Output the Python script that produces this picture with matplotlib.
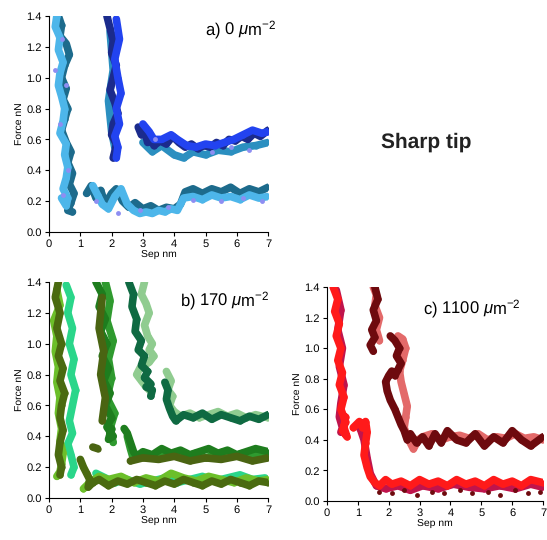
import numpy as np
from matplotlib import pyplot as plt

plt.rcParams['font.family'] = ['Liberation Sans', 'DejaVu Sans']
plt.rcParams['mathtext.fontset'] = 'custom'
plt.rcParams['mathtext.it'] = 'Liberation Sans:italic'
plt.rcParams['mathtext.rm'] = 'Liberation Sans'
plt.rcParams['text.hinting'] = 'no_hinting'

nan = np.nan

# ---- panel a) 0 um^-2 (blues) ----
a_teal_x = [0.30, 0.40, 0.35, 0.55, 0.65, 0.50, 0.40, 0.55, 0.45, 0.60, 0.50, 0.40, 0.55, 0.70, 0.60, 0.75, 0.65, 0.80, 0.70, 0.60, 0.75, nan,
            1.20, 1.35, 1.50, 1.65, 1.80, 2.00, 2.15, 2.35, 2.55, 2.75, 3.00, 3.25, 3.50, 3.75, 4.00, 4.20, 4.35, 4.60, 4.90, 5.20, 5.50, 5.80, 6.10, 6.40, 6.70, 7.00]
a_teal_y = [1.40, 1.34, 1.27, 1.22, 1.15, 1.08, 1.00, 0.93, 0.86, 0.80, 0.73, 0.66, 0.58, 0.52, 0.45, 0.38, 0.31, 0.25, 0.19, 0.14, 0.13, nan,
            0.25, 0.30, 0.22, 0.27, 0.18, 0.25, 0.28, 0.20, 0.16, 0.19, 0.15, 0.17, 0.14, 0.16, 0.15, 0.18, 0.26, 0.28, 0.25, 0.28, 0.26, 0.29, 0.25, 0.28, 0.26, 0.29]
a_sky_x = [0.25, 0.20, 0.35, 0.30, 0.45, 0.35, 0.30, 0.40, 0.50, 0.45, 0.35, 0.55, 0.50, 0.60, 0.55, 0.45, 0.60, 0.55, 0.40, nan,
           1.40, 1.55, 1.70, 1.90, 2.10, 2.30, 2.50, 2.70, 2.90, 3.10, 3.30, 3.50, 3.70, 3.90, 4.10, 4.30, 4.60, 4.90, 5.20, 5.50, 5.80, 6.10, 6.40, 6.70, 7.00]
a_sky_y = [1.40, 1.33, 1.26, 1.18, 1.10, 1.03, 0.95, 0.88, 0.80, 0.72, 0.64, 0.57, 0.50, 0.42, 0.35, 0.28, 0.22, 0.17, 0.22, nan,
           0.30, 0.24, 0.18, 0.15, 0.23, 0.28, 0.18, 0.14, 0.12, 0.13, 0.12, 0.14, 0.13, 0.15, 0.14, 0.22, 0.23, 0.21, 0.24, 0.22, 0.23, 0.21, 0.24, 0.22, 0.23]
a_lav_x = [0.20, 0.40, 0.55, 0.35, 0.60, 0.45, 1.50, 2.20, 2.90, 3.80, 4.60, 5.50, 6.20, 6.80, 5.20, 5.80, 6.40, 3.40]
a_lav_y = [1.05, 1.25, 0.95, 0.70, 0.40, 0.24, 0.20, 0.12, 0.14, 0.16, 0.21, 0.20, 0.22, 0.20, 0.52, 0.55, 0.53, 0.60]
a_navy_x = [1.85, 1.95, 2.05, 2.00, 2.15, 2.05, 1.95, 2.10, 2.20, 2.05, 2.00, 2.15, 2.10, 2.05, 2.15, nan,
            2.85, 2.95, 3.05, 3.15, 3.25, 3.35, 3.55, 3.75, 3.95, 4.15, 4.35, 4.55, 4.75, 4.95, 5.15, 5.35, 5.55, 5.75, 5.95, 6.15, 6.35, 6.55, 6.75, 7.00]
a_navy_y = [1.40, 1.32, 1.24, 1.16, 1.08, 1.00, 0.92, 0.84, 0.77, 0.70, 0.63, 0.57, 0.52, 0.48, 0.50, nan,
            0.68, 0.63, 0.66, 0.58, 0.62, 0.56, 0.59, 0.57, 0.62, 0.58, 0.55, 0.57, 0.54, 0.56, 0.55, 0.58, 0.56, 0.60, 0.59, 0.62, 0.60, 0.64, 0.62, 0.66]
a_blue_x = [2.15, 2.25, 2.10, 2.20, 2.30, 2.15, 2.25, 2.10, 2.20, 2.15, nan,
            3.00, 3.20, 3.35, 3.60, 3.90, 4.10, 4.40, 4.70, 5.00, 5.30, 5.60, 5.90, 6.20, 6.50, 6.80, 7.00]
a_blue_y = [1.38, 1.25, 1.12, 1.00, 0.90, 0.80, 0.70, 0.62, 0.55, 0.48, nan,
            0.70, 0.65, 0.60, 0.60, 0.63, 0.60, 0.56, 0.55, 0.57, 0.56, 0.58, 0.60, 0.63, 0.66, 0.64, 0.65]
a_cyan_x = [1.95, 2.05, 1.90, 2.00, 2.10, nan,
            3.00, 3.30, 3.60, 4.00, 4.30, 4.60, 5.00, 5.40, 5.80, 6.20, 6.60, 7.00]
a_cyan_y = [1.30, 1.05, 0.85, 0.65, 0.55, nan,
            0.58, 0.52, 0.56, 0.50, 0.48, 0.52, 0.50, 0.53, 0.52, 0.55, 0.56, 0.58]

# ---- panel b) 170 um^-2 (greens) ----
b_olive_x = [0.30, 0.20, 0.35, 0.25, 0.40, 0.30, 0.45, 0.35, 0.50, 0.40, 0.35, 0.45, 0.35, 0.30, 0.40, 0.35, nan,
             1.00, 1.10, 1.20, 1.30, 1.25, 1.40, 1.60, 1.90, 2.20, 2.50, 2.80, 3.10, 3.40, 3.70, 4.00, 4.30, 4.60, 4.90, 5.20, 5.50, 5.80, 6.10, 6.40, 6.70, 7.00]
b_olive_y = [1.40, 1.30, 1.20, 1.10, 1.00, 0.92, 0.84, 0.76, 0.68, 0.60, 0.52, 0.44, 0.36, 0.28, 0.20, 0.15, nan,
             0.25, 0.20, 0.16, 0.12, 0.07, 0.10, 0.12, 0.08, 0.11, 0.09, 0.12, 0.10, 0.08, 0.11, 0.09, 0.12, 0.10, 0.08, 0.11, 0.09, 0.12, 0.10, 0.08, 0.11, 0.10]
b_lime_x = [0.25, 0.35, 0.15, 0.25, 0.20, 0.30, 0.25, 0.35, 0.30, 0.40, 0.35, 0.45, 0.40, 0.35, 0.25, nan,
            1.10, 1.30, 1.60, 1.90, 2.30, 2.70, 3.10, 3.50, 3.90, 4.30, 4.70, 5.10, 5.50, 5.90, 6.30, 6.70, 7.00]
b_lime_y = [1.35, 1.25, 1.15, 1.05, 0.95, 0.85, 0.75, 0.65, 0.55, 0.45, 0.37, 0.29, 0.22, 0.17, 0.14, nan,
            0.06, 0.10, 0.14, 0.12, 0.14, 0.10, 0.13, 0.11, 0.16, 0.13, 0.11, 0.14, 0.12, 0.10, 0.13, 0.11, 0.12]
b_mint_x = [0.55, 0.70, 0.60, 0.75, 0.65, 0.80, 0.70, 0.85, 0.75, 0.65, 0.75, 0.60, 0.70, 0.80, 0.70, nan,
            1.50, 1.80, 2.10, 2.50, 2.90, 3.30, 3.70, 4.10, 4.50, 4.90, 5.30, 5.70, 6.10, 6.50, 6.90]
b_mint_y = [1.38, 1.30, 1.20, 1.10, 1.00, 0.90, 0.80, 0.70, 0.60, 0.50, 0.42, 0.35, 0.28, 0.20, 0.15, nan,
            0.16, 0.13, 0.10, 0.12, 0.09, 0.11, 0.13, 0.10, 0.12, 0.14, 0.11, 0.13, 0.15, 0.12, 0.13]
b_dkgreen_x = [1.50, 1.70, 1.60, 1.80, 1.65, 1.85, 1.70, 1.90, 1.75, 1.95, 1.80, 2.00, 1.85, 2.05, 1.90, 2.00, nan,
               2.40, 2.50, 2.60, 2.70, 2.80, 3.00, 3.30, 3.60, 3.90, 4.20, 4.50, 4.80, 5.10, 5.40, 5.70, 6.00, 6.30, 6.60, 7.00]
b_dkgreen_y = [1.40, 1.32, 1.24, 1.16, 1.08, 1.00, 0.92, 0.84, 0.76, 0.68, 0.60, 0.52, 0.46, 0.40, 0.38, 0.45, nan,
               0.45, 0.42, 0.36, 0.30, 0.27, 0.30, 0.28, 0.32, 0.29, 0.31, 0.28, 0.30, 0.32, 0.29, 0.31, 0.28, 0.30, 0.32, 0.30]
b_green_x = [1.80, 1.95, 1.85, 2.05, 1.90, 2.00, 1.85, 2.10, 1.95, 2.05, nan,
             2.50, 2.60, 2.70, 2.90, 3.20, 3.50, 3.80, 4.10, 4.40, 4.70, 5.00, 5.30, 5.60, 5.90, 6.20, 6.50, 6.80, 7.00]
b_green_y = [1.40, 1.28, 1.15, 1.02, 0.90, 0.78, 0.65, 0.55, 0.45, 0.36, nan,
             0.40, 0.32, 0.25, 0.28, 0.26, 0.29, 0.27, 0.30, 0.27, 0.29, 0.26, 0.28, 0.30, 0.27, 0.29, 0.27, 0.29, 0.28]
b_moss_x = [1.70, 1.60, 1.75, 1.65, 1.80, 1.70, nan, 1.40, 1.55, nan,
            2.60, 3.00, 3.50, 4.00, 4.50, 5.00, 5.50, 6.00, 6.50, 7.00]
b_moss_y = [1.30, 1.10, 0.95, 0.80, 0.65, 0.50, nan, 0.33, 0.32, nan,
            0.24, 0.26, 0.25, 0.27, 0.24, 0.26, 0.25, 0.27, 0.24, 0.26]
b_pine_x = [2.55, 2.70, 2.65, 2.80, 2.75, 2.95, 2.85, 3.05, 2.95, 3.15, 3.05, 3.25, 3.10, 3.30, 3.25, nan,
            3.70, 3.80, 3.75, 3.85, 3.95, 4.05, 4.30, 4.60, 4.90, 5.20, 5.50, 5.80, 6.10, 6.40, 6.70, 7.00]
b_pine_y = [1.40, 1.32, 1.24, 1.16, 1.08, 1.02, 0.96, 0.92, 0.86, 0.82, 0.78, 0.74, 0.72, 0.70, 0.66, nan,
            0.75, 0.70, 0.64, 0.58, 0.53, 0.50, 0.54, 0.52, 0.55, 0.51, 0.54, 0.52, 0.50, 0.53, 0.51, 0.54]
b_pale_x = [3.05, 2.95, 3.10, 3.20, 3.05, 3.15, 3.30, 3.20, 3.35, 3.20, 3.05, 2.90, 2.80, 2.95, 3.10, 3.20, nan,
            3.75, 3.90, 3.80, 3.95, 3.85, 4.00, 4.20, 4.50, 4.80, 5.10, 5.40, 5.70, 6.00, 6.30, 6.60, 7.00]
b_pale_y = [1.40, 1.32, 1.26, 1.20, 1.12, 1.05, 1.00, 0.96, 0.92, 0.88, 0.86, 0.84, 0.80, 0.76, 0.72, 0.70, nan,
            0.82, 0.76, 0.70, 0.66, 0.60, 0.56, 0.53, 0.55, 0.52, 0.54, 0.56, 0.53, 0.55, 0.52, 0.54, 0.52]

# ---- panel c) 1100 um^-2 (reds) ----
c_red_x = [0.20, 0.35, 0.25, 0.40, 0.30, 0.45, 0.35, 0.50, 0.40, 0.55, 0.45, 0.60, 0.50, 0.65, 0.55, 0.60, nan,
           0.85, 0.95, 1.05, 1.15, 1.25, 1.30, 1.25, 1.20, 1.30, 1.40, 1.55, 1.70, 1.90, 2.10, 2.40, 2.70, 3.00, 3.30, 3.60, 3.90,
           4.20, 4.50, 4.80, 5.10, 5.40, 5.70, 6.00, 6.30, 6.60, 7.00]
c_red_y = [1.40, 1.32, 1.24, 1.16, 1.08, 1.00, 0.92, 0.84, 0.76, 0.68, 0.60, 0.52, 0.46, 0.42, 0.48, 0.55, nan,
           0.48, 0.50, 0.52, 0.48, 0.52, 0.45, 0.38, 0.30, 0.22, 0.16, 0.12, 0.10, 0.14, 0.11, 0.13, 0.10, 0.14, 0.11, 0.13, 0.10,
           0.14, 0.11, 0.13, 0.10, 0.14, 0.11, 0.13, 0.10, 0.14, 0.12]
c_crimson_x = [0.30, 0.45, 0.35, 0.50, 0.40, 0.55, 0.45, 0.40, 0.50, 0.45, nan,
               1.00, 1.10, 1.20, 1.30, 1.40, 1.60, 1.90, 2.30, 2.70, 3.10, 3.60, 4.10, 4.60, 5.10, 5.60, 6.10, 6.60, 7.00]
c_crimson_y = [1.38, 1.25, 1.12, 1.00, 0.88, 0.76, 0.64, 0.55, 0.48, 0.45, nan,
               0.50, 0.46, 0.40, 0.28, 0.18, 0.10, 0.08, 0.10, 0.07, 0.10, 0.08, 0.11, 0.09, 0.08, 0.10, 0.08, 0.11, 0.09]
c_maroon_x = [1.55, 1.65, 1.50, 1.60, 1.45, 1.55, 1.40, 1.50, nan,
              2.05, 2.20, 2.35, 2.25, 2.40, 2.30, 2.20, 2.10, 2.00, 1.90, 1.95, 2.05, 2.20, 2.30, 2.40, 2.50, 2.60, 2.70, 2.90, 3.10,
              3.30, 3.50, 3.70, 3.90, 4.20, 4.50, 4.80, 5.10, 5.40, 5.70, 6.00, 6.30, 6.60, 7.00]
c_maroon_y = [1.40, 1.32, 1.25, 1.18, 1.12, 1.07, 1.02, 0.98, nan,
              1.08, 1.05, 1.00, 0.95, 0.90, 0.86, 0.82, 0.85, 0.82, 0.78, 0.72, 0.66, 0.60, 0.55, 0.50, 0.46, 0.40, 0.44, 0.38, 0.42,
              0.36, 0.44, 0.38, 0.46, 0.40, 0.38, 0.44, 0.36, 0.42, 0.38, 0.46, 0.40, 0.36, 0.42]
c_maroon_low_x = [1.70, 2.10, 2.50, 2.90, 3.40, 3.80, 4.30, 4.70, 5.20, 5.60, 6.10, 6.50, 6.90]
c_maroon_low_y = [0.06, 0.05, 0.07, 0.04, 0.06, 0.05, 0.07, 0.05, 0.06, 0.04, 0.07, 0.05, 0.06]
c_salmon_x = [1.50, 1.60, 1.55, 1.70, 1.60, 1.70, nan,
              2.30, 2.45, 2.55, 2.45, 2.35, 2.40, 2.50, 2.60, 2.55, 2.50, 2.60, 2.70, 2.80, 2.95, 3.10, 3.40, 3.70, 4.00, 4.30,
              4.60, 4.90, 5.20, 5.50, 5.80, 6.10, 6.40, 6.70, 7.00]
c_salmon_y = [1.40, 1.35, 1.28, 1.20, 1.12, 1.05, nan,
              1.08, 1.06, 1.00, 0.92, 0.85, 0.78, 0.70, 0.62, 0.55, 0.48, 0.42, 0.38, 0.34, 0.40, 0.42, 0.44, 0.40, 0.42, 0.43,
              0.41, 0.44, 0.40, 0.42, 0.41, 0.44, 0.41, 0.42, 0.40]

force_ticks = [0.0, 0.2, 0.4, 0.6, 0.8, 1.0, 1.2, 1.4]
force_labels = ['0.0', '0.2', '0.4', '0.6', '0.8', '1.0', '1.2', '1.4']
sep_ticks = [0, 1, 2, 3, 4, 5, 6, 7]

panel_a = [(a_teal_x, a_teal_y, '#1d6b8c'), (a_sky_x, a_sky_y, '#4db6ea'),
           (a_cyan_x, a_cyan_y, '#2b8fc0'), (a_navy_x, a_navy_y, '#1b2b8c'),
           (a_blue_x, a_blue_y, '#2243f0')]
panel_b = [(b_mint_x, b_mint_y, '#2ad68a'), (b_lime_x, b_lime_y, '#6cbf2a'),
           (b_olive_x, b_olive_y, '#4a6a10'), (b_pale_x, b_pale_y, '#90cc90'),
           (b_pine_x, b_pine_y, '#0f6a42'), (b_green_x, b_green_y, '#2f9a2f'),
           (b_dkgreen_x, b_dkgreen_y, '#1e7d1e'), (b_moss_x, b_moss_y, '#4a6412')]
panel_c = [(c_salmon_x, c_salmon_y, '#e36a6a'), (c_maroon_x, c_maroon_y, '#6e0a0e'),
           (c_crimson_x, c_crimson_y, '#c0144c'), (c_red_x, c_red_y, '#ff1a1a')]


def setup(ax):
    ax.set_xlim(0, 7)
    ax.set_ylim(0, 1.4)
    ax.set_xticks(sep_ticks)
    ax.set_yticks(force_ticks)
    ax.set_yticklabels(force_labels)
    ax.spines['top'].set_visible(False)
    ax.spines['right'].set_visible(False)
    ax.tick_params(labelsize=8, length=3, width=0.8, pad=2)
    ax.set_xlabel('Sep nm', fontsize=7.5, labelpad=1)
    ax.set_ylabel('Force nN', fontsize=7.5, labelpad=2)


def draw(ax, traces):
    for x, y, c in traces:
        ax.plot(x, y, '-', color=c, lw=5.5, solid_capstyle='round', solid_joinstyle='round')
        ax.plot(x, y, 'o', color=c, ms=4.5, mew=0)


fig = plt.figure(figsize=(5.47, 5.40), dpi=100)
ax_a = fig.add_axes([0.0896, 0.5704, 0.4006, 0.4])
ax_b = fig.add_axes([0.0896, 0.0778, 0.4006, 0.4])
ax_c = fig.add_axes([0.5978, 0.0722, 0.395, 0.3963])

draw(ax_a, panel_a)
ax_a.plot(a_lav_x, a_lav_y, 'o', color='#8e8ef2', ms=3.5, mew=0)
draw(ax_b, panel_b)
draw(ax_c, panel_c)
ax_c.plot(c_maroon_low_x, c_maroon_low_y, 'o', color='#6e0a0e', ms=3.5, mew=0)

for ax in (ax_a, ax_b, ax_c):
    setup(ax)

ax_a.text(4.97, 1.31, r'a) 0 $\mu$m$^{-2}$', fontsize=12, va='center', ha='left')
ax_b.text(4.17, 1.28, r'b) 170 $\mu$m$^{-2}$', fontsize=12, va='center', ha='left')
ax_c.text(3.1, 1.26, r'c) 1100 $\mu$m$^{-2}$', fontsize=12, va='center', ha='left')
fig.text(426 / 547, 1 - 142 / 540, 'Sharp tip', fontsize=15, fontweight='bold',
         ha='center', va='center', color='#222222')

fig.savefig('out.png', dpi=100)
